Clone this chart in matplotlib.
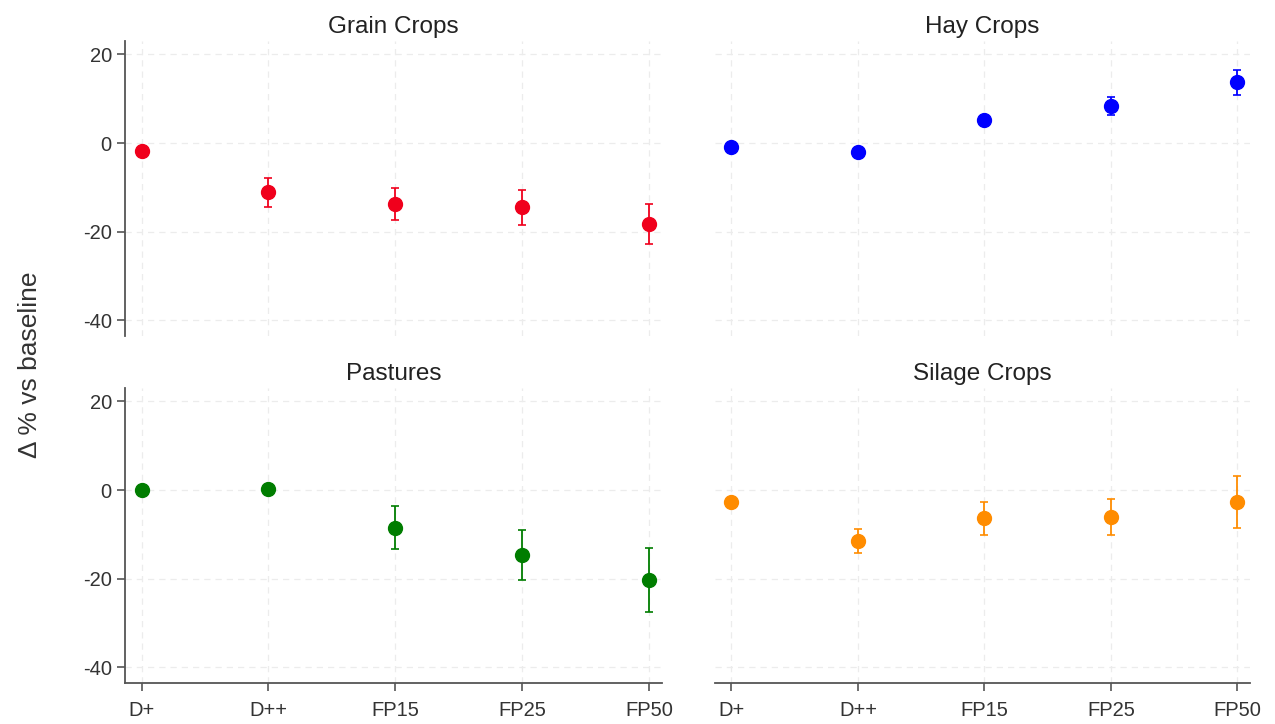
import numpy as np
import matplotlib
matplotlib.use("Agg")
import matplotlib.pyplot as plt

plt.rcParams['font.family'] = ['Liberation Sans', 'DejaVu Sans']
plt.rcParams['axes.unicode_minus'] = False

# ------------------------------------------------------------
# Data
# ------------------------------------------------------------
scenarios = ["D+", "D++", "FP15", "FP25", "FP50"]

grain = [-1.8, -11.1, -13.8, -14.5, -18.3]
grain_lo = [-1.8, -14.4, -17.4, -18.4, -22.8]
grain_hi = [-1.8, -7.9, -10.1, -10.5, -13.8]

hay = [-0.8, -2.1, 5.3, 8.3, 13.7]
hay_lo = [-0.8, -2.1, 4.5, 6.3, 10.8]
hay_hi = [-0.8, -2.1, 6.2, 10.3, 16.5]

pasture = [0.0, 0.3, -8.6, -14.7, -20.3]
pasture_lo = [0.0, 0.3, -13.2, -20.2, -27.5]
pasture_hi = [0.0, 0.3, -3.6, -9.0, -13.1]

silage = [-2.8, -11.6, -6.4, -6.0, -2.7]
silage_lo = [-2.8, -14.3, -10.1, -10.1, -8.5]
silage_hi = [-2.8, -8.8, -2.8, -2.1, 3.2]

panels = [
    ("Grain Crops", grain, grain_lo, grain_hi, "#f0001c"),
    ("Hay Crops", hay, hay_lo, hay_hi, "#0000ff"),
    ("Pastures", pasture, pasture_lo, pasture_hi, "#007d00"),
    ("Silage Crops", silage, silage_lo, silage_hi, "#ff8c00"),
]

# ------------------------------------------------------------
# Figure
# ------------------------------------------------------------
fig = plt.figure(figsize=(12.75, 7.24), dpi=100)

W, H = 1275, 724
boxes = [(125, 41, 662, 336), (715, 41, 1250, 336),
         (125, 388, 662, 683), (715, 388, 1250, 683)]

x = np.arange(len(scenarios))
axis_col = "#555555"

for i, (title, val, lo, hi, col) in enumerate(panels):
    x0, y0, x1, y1 = boxes[i]
    ax = fig.add_axes([x0 / W, 1 - y1 / H, (x1 - x0) / W, (y1 - y0) / H])

    val = np.array(val)
    err = np.array([val - np.array(lo), np.array(hi) - val])
    ax.errorbar(x, val, yerr=err, fmt="o", color=col, ecolor=col,
                markersize=10, elinewidth=1.3, capsize=3, capthick=1.2)

    ax.set_xlim(-0.13, 4.1)
    ax.set_ylim(-43.5, 23)
    ax.set_yticks([-40, -20, 0, 20])
    ax.set_xticks(x)
    ax.set_xticklabels(scenarios)
    ax.set_title(title, fontsize=17.5, color="#222222", pad=6)

    ax.grid(True, color="#ececec", linestyle=(0, (5, 4)), linewidth=0.9)
    ax.set_axisbelow(True)

    for s in ["top", "right"]:
        ax.spines[s].set_visible(False)
    ax.spines["left"].set_color(axis_col)
    ax.spines["bottom"].set_color(axis_col)
    ax.spines["left"].set_linewidth(1.3)
    ax.spines["bottom"].set_linewidth(1.3)
    ax.tick_params(colors=axis_col, labelcolor="#333333", labelsize=14.5,
                   length=6, width=1.2)
    ax.tick_params(axis="x", pad=7)

    if i % 2 == 1:
        ax.spines["left"].set_visible(False)
        ax.tick_params(axis="y", left=False, labelleft=False)
    if i < 2:
        ax.spines["bottom"].set_visible(False)
        ax.tick_params(axis="x", bottom=False, labelbottom=False)

fig.text(30 / W, 1 - 365 / H, "Δ % vs baseline", rotation=90,
         ha="center", va="center", fontsize=19, color="#333333")

fig.savefig("out.png", dpi=100)
